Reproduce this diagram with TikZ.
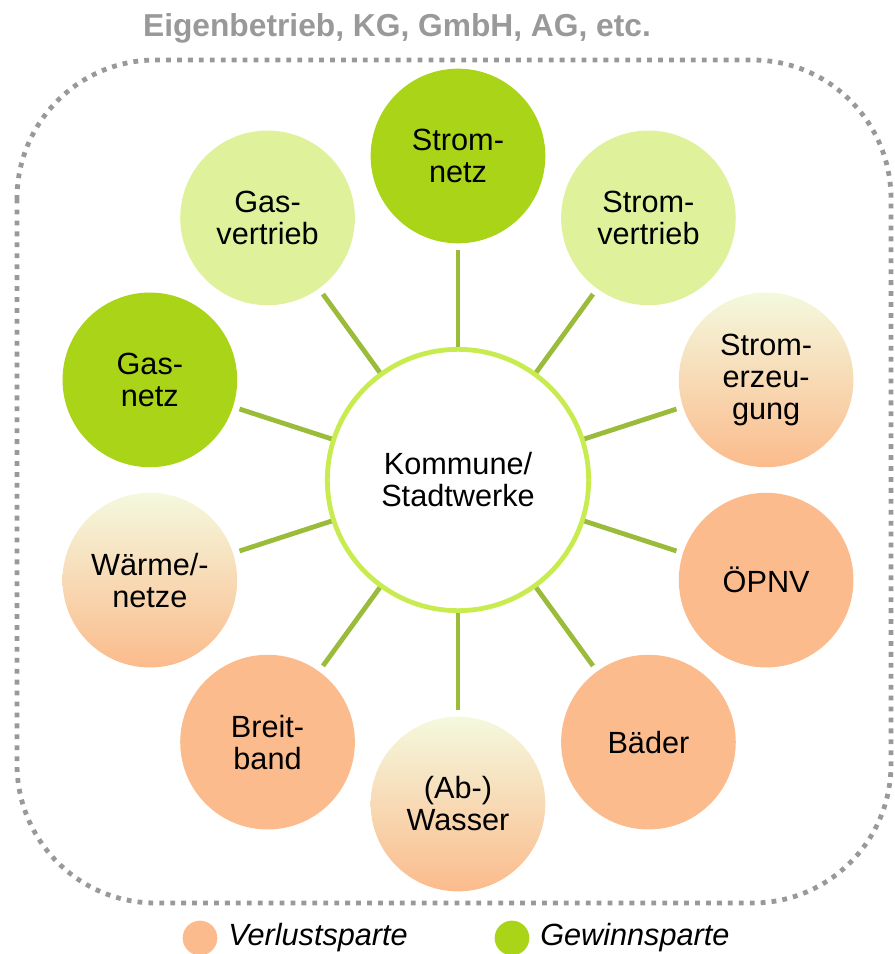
\documentclass[tikz,border=0pt]{standalone}
\usepackage{fontspec}
\setmainfont{Liberation Sans}
\usetikzlibrary{positioning}
\definecolor{gewinngreen}{RGB}{170, 212, 24}
\definecolor{lightgreen}{RGB}{223, 242, 155}
\definecolor{verlustorange}{RGB}{251, 187, 140}
\definecolor{mixtop}{RGB}{244, 249, 222}
\definecolor{linkgreen}{RGB}{155, 187, 59}
\definecolor{ringgreen}{RGB}{200, 235, 80}
\definecolor{framegray}{RGB}{153, 153, 153}

\begin{document}
\begin{tikzpicture}[
    x=0.75pt, y=0.75pt,
    sparte/.style={circle, minimum size=131pt, inner sep=0pt, align=center, font=\fontsize{23}{24}\selectfont},
    gewinn/.style={sparte, fill=gewinngreen},
    halbgewinn/.style={sparte, fill=lightgreen},
    verlust/.style={sparte, fill=verlustorange},
    gemischt/.style={sparte, top color=mixtop, bottom color=verlustorange},
    link/.style={line width=3.6pt, linkgreen, shorten >=5pt},
    rahmen/.style={framegray, line width=3.6pt, dash pattern=on 3.6pt off 4.6pt, rounded corners=104pt}
]
\useasboundingbox (-458,480) rectangle (437,-474);

% Rechtsform frame
\node[font=\fontsize{23.8}{24}\selectfont\bfseries, text=framegray] (title) at (-61,452) {Eigenbetrieb, KG, GmbH, AG, etc.};
\draw[rahmen] (-441,420) rectangle (433,-423);

% Center node
\node[circle, draw=ringgreen, line width=3.6pt, fill=white, minimum size=196pt, inner sep=0pt, align=center, font=\fontsize{23}{24}\selectfont] (center) at (0,0) {Kommune/\\Stadtwerke};

% Sparten around the center
\node[gewinn] (stromnetz) at (90:324) {Strom-\\netz};
\node[halbgewinn] (stromvertrieb) at (54:324) {Strom-\\vertrieb};
\node[gemischt] (stromerzeugung) at (18:324) {Strom-\\erzeu-\\gung};
\node[verlust] (oepnv) at (-18:324) {ÖPNV};
\node[verlust] (baeder) at (-54:324) {Bäder};
\node[gemischt] (wasser) at (-90:324) {(Ab-)\\Wasser};
\node[verlust] (breitband) at (-126:324) {Breit-\\band};
\node[gemischt] (waerme) at (-162:324) {Wärme/-\\netze};
\node[gewinn] (gasnetz) at (162:324) {Gas-\\netz};
\node[halbgewinn] (gasvertrieb) at (126:324) {Gas-\\vertrieb};

% Connecting lines
\draw[link] (center) -- (stromnetz);
\draw[link] (center) -- (stromvertrieb);
\draw[link] (center) -- (stromerzeugung);
\draw[link] (center) -- (oepnv);
\draw[link] (center) -- (baeder);
\draw[link] (center) -- (wasser);
\draw[link] (center) -- (breitband);
\draw[link] (center) -- (waerme);
\draw[link] (center) -- (gasnetz);
\draw[link] (center) -- (gasvertrieb);

% Legend
\node[circle, fill=verlustorange, minimum size=26pt, inner sep=0pt] (verlustdot) at (-258,-458) {};
\node[anchor=west, font=\fontsize{23}{24}\selectfont\itshape, inner sep=0pt] (verlusttext) at (-230,-458) {Verlustsparte};
\node[circle, fill=gewinngreen, minimum size=26pt, inner sep=0pt] (gewinndot) at (54,-458) {};
\node[anchor=west, font=\fontsize{23}{24}\selectfont\itshape, inner sep=0pt] (gewinntext) at (82,-458) {Gewinnsparte};

\end{tikzpicture}
\end{document}
